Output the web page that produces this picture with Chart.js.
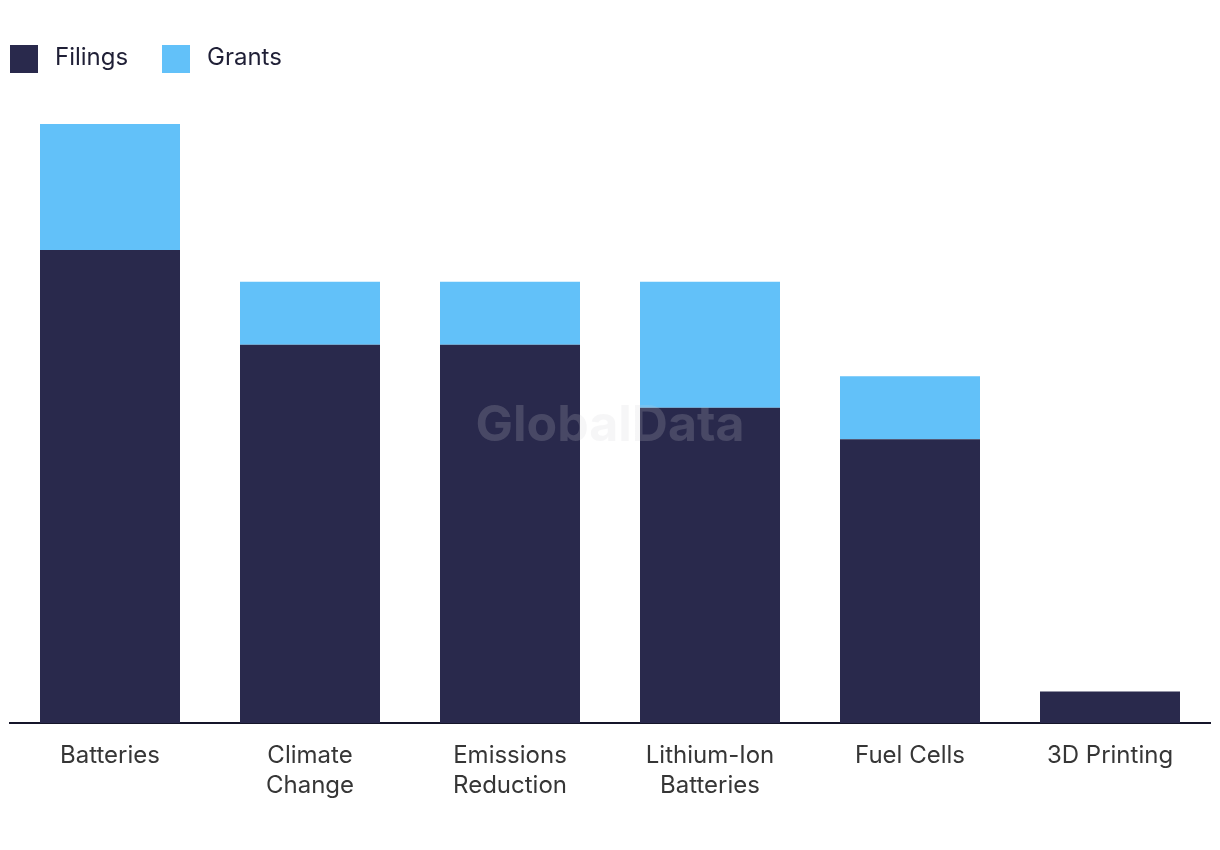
<!DOCTYPE html>
<html>
<head>
<meta charset="utf-8">
<script src="https://cdn.jsdelivr.net/npm/chart.js@4/dist/chart.umd.min.js"></script>
<style>
html,body{margin:0;padding:0;background:#fff;}
#wrap{width:1220px;height:850px;position:relative;}
</style>
</head>
<body>
<div id="wrap"><canvas id="c" width="1220" height="850"></canvas></div>
<script>
const categories = [["Batteries"], ["Climate", "Change"], ["Emissions", "Reduction"], ["Lithium-Ion", "Batteries"], ["Fuel Cells"], ["3D Printing"]];
const filings = [15, 12, 12, 10, 9, 1];
const grants = [4, 2, 2, 4, 2, 0];
const seriesNames = ["Filings", "Grants"];
const seriesColors = ["#29294c", "#62c1f9"];

const FONT = "Inter, 'Noto Sans', sans-serif";

const legendPlugin = {
  id: 'customLegend',
  afterDraw(chart) {
    const ctx = chart.ctx;
    ctx.save();
    const positions = [10, 162];
    chart.data.datasets.forEach((ds, i) => {
      const bx = positions[i];
      ctx.fillStyle = ds.backgroundColor;
      ctx.fillRect(bx, 45, 28, 28);
      ctx.fillStyle = '#1f1f36';
      ctx.font = '24px ' + FONT;
      ctx.textBaseline = 'middle';
      ctx.textAlign = 'left';
      ctx.fillText(ds.label, bx + 45, 58);
    });
    ctx.restore();
  }
};

const watermarkPlugin = {
  id: 'watermark',
  afterDatasetsDraw(chart) {
    const ctx = chart.ctx;
    ctx.save();
    ctx.fillStyle = 'rgba(208,208,215,0.19)';
    ctx.font = 'bold 50px ' + FONT;
    ctx.textAlign = 'center';
    ctx.textBaseline = 'middle';
    ctx.fillText('GlobalData', 610, 426);
    ctx.restore();
  }
};

new Chart(document.getElementById('c'), {
  type: 'bar',
  data: {
    labels: categories,
    datasets: [
      { label: seriesNames[0], data: filings, backgroundColor: seriesColors[0], barPercentage: 0.7, categoryPercentage: 1.0 },
      { label: seriesNames[1], data: grants, backgroundColor: seriesColors[1], barPercentage: 0.7, categoryPercentage: 1.0 }
    ]
  },
  options: {
    responsive: false,
    animation: false,
    devicePixelRatio: 1,
    layout: { padding: { top: 124, left: 10, right: 10, bottom: 0 } },
    plugins: {
      legend: { display: false },
      tooltip: { enabled: false }
    },
    scales: {
      x: {
        stacked: true,
        grid: { display: false, drawTicks: false },
        border: { display: true, color: '#15152a', width: 2 },
        ticks: {
          color: '#363636',
          font: { family: FONT, size: 24, lineHeight: 1.25 },
          padding: 18,
          maxRotation: 0,
          autoSkip: false
        },
        afterFit(scale) { scale.height = 127; }
      },
      y: {
        stacked: true,
        display: false,
        min: 0,
        max: 19
      }
    }
  },
  plugins: [legendPlugin, watermarkPlugin]
});
</script>
</body>
</html>
